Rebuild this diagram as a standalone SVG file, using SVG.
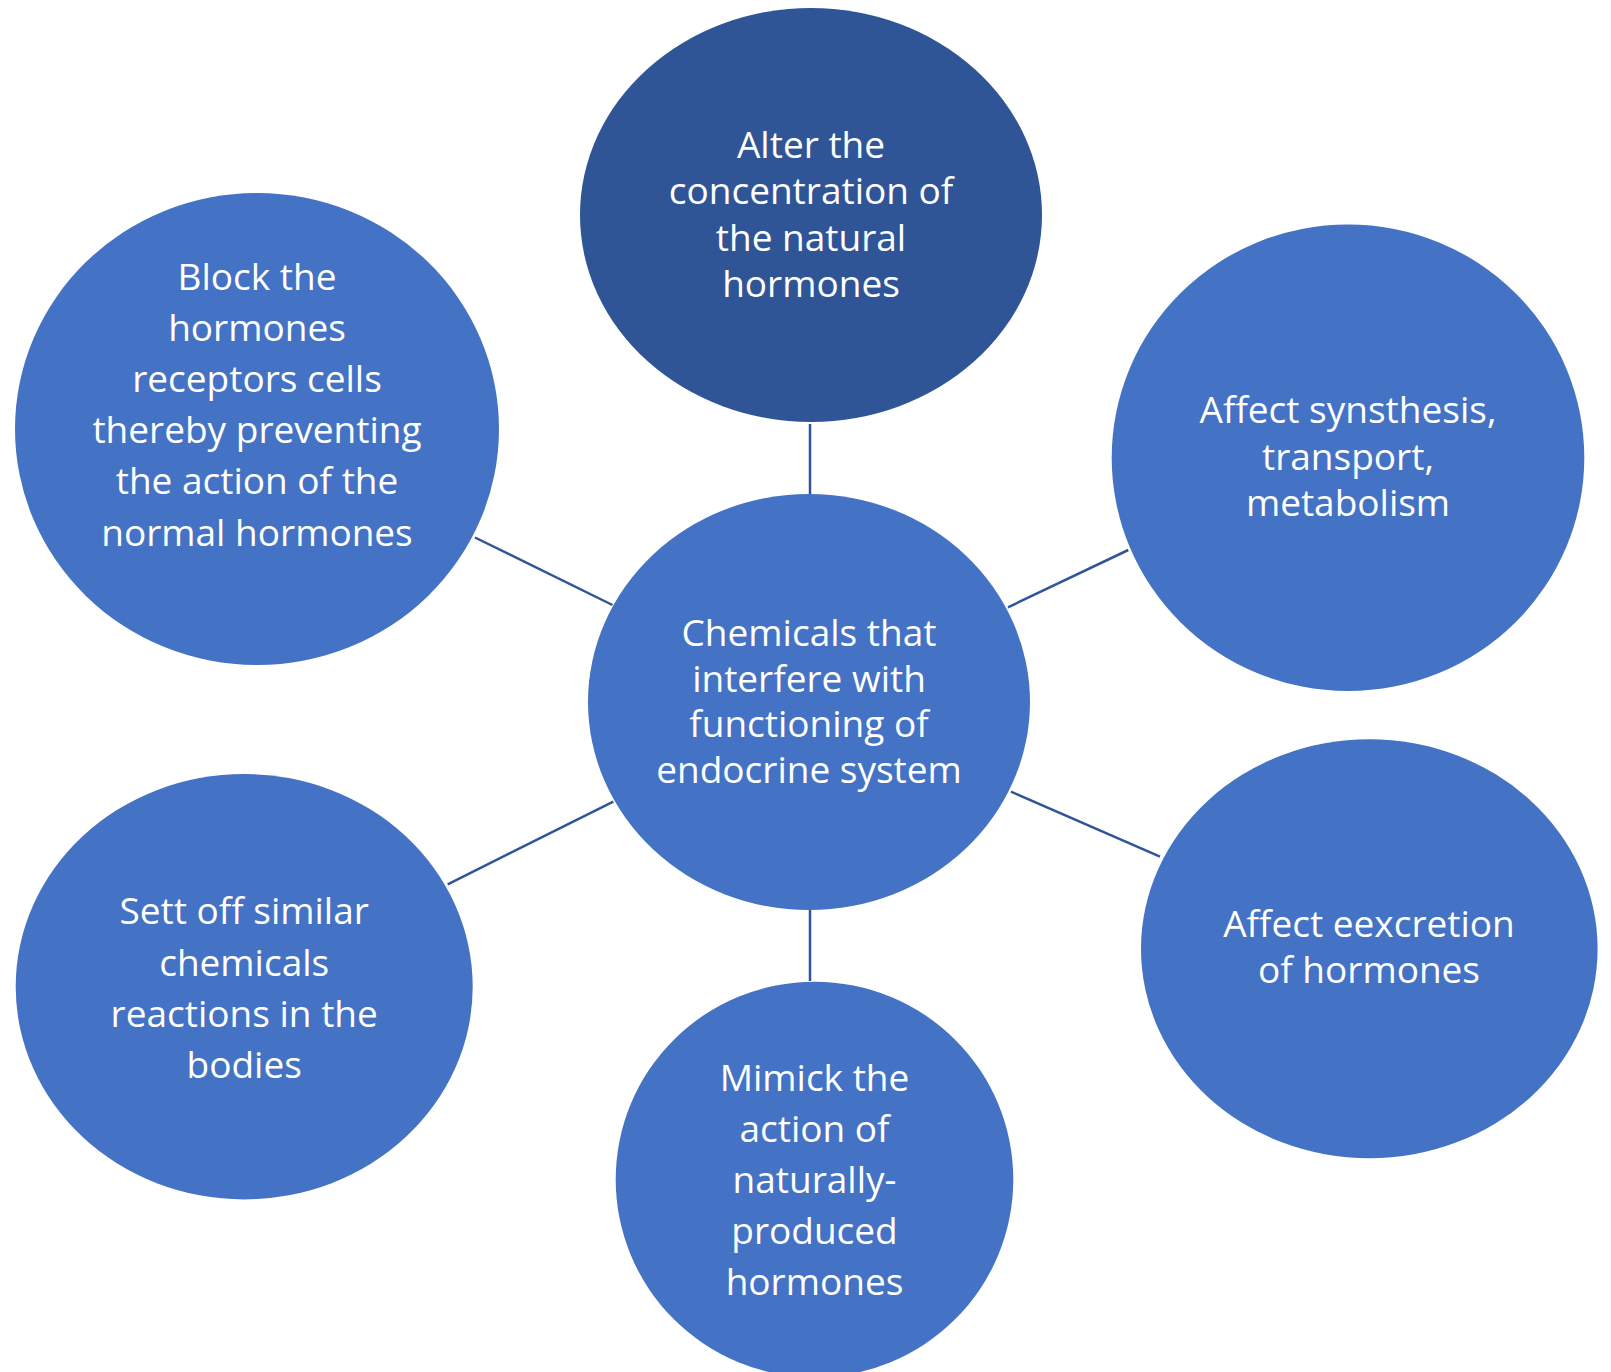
<svg xmlns="http://www.w3.org/2000/svg" width="1611" height="1372" viewBox="0 0 1611 1372">
<style>
.n{fill:#4472C4}
.d{fill:#2F5597}
.t{fill:#FFFFFF;font-family:"Open Sans","Noto Sans",sans-serif;font-size:37px;text-anchor:middle}
.c line{stroke:#2F5597;stroke-width:2.5;fill:none}
</style>
<rect width="1611" height="1372" fill="#FFFFFF"/>
<g id="connectors" class="c">
<line x1="810" y1="424" x2="810" y2="494"/>
<line x1="475" y1="537.5" x2="612.5" y2="605"/>
<line x1="1008" y1="607.3" x2="1128.3" y2="550"/>
<line x1="1011" y1="791.7" x2="1160" y2="856.7"/>
<line x1="810" y1="910" x2="810" y2="981"/>
<line x1="447.7" y1="884.3" x2="613.3" y2="801.7"/>
</g>
<g id="center">
<ellipse class="n" cx="809" cy="702" rx="221" ry="208"/>
<text class="t" x="809"><tspan x="809" y="645.7">Chemicals that</tspan><tspan x="809" y="691.7">interfere with</tspan><tspan x="809" y="737.3">functioning of</tspan><tspan x="809" y="783">endocrine system</tspan></text>
</g>
<g id="top">
<ellipse class="d" cx="811" cy="215" rx="231" ry="207"/>
<text class="t"><tspan x="811" y="158">Alter the</tspan><tspan x="811" y="204">concentration of</tspan><tspan x="811" y="250.7">the natural</tspan><tspan x="811" y="296.7">hormones</tspan></text>
</g>
<g id="topleft">
<ellipse class="n" cx="257" cy="429" rx="242" ry="236"/>
<text class="t"><tspan x="257" y="290">Block the</tspan><tspan x="257" y="341.3">hormones</tspan><tspan x="257" y="392.3">receptors cells</tspan><tspan x="257" y="443.3">thereby preventing</tspan><tspan x="257" y="494.3">the action of the</tspan><tspan x="257" y="545.7">normal hormones</tspan></text>
</g>
<g id="topright">
<ellipse class="n" cx="1348" cy="457.7" rx="236.3" ry="233.3"/>
<text class="t"><tspan x="1348" y="423.3">Affect synsthesis,</tspan><tspan x="1348" y="470">transport,</tspan><tspan x="1348" y="516">metabolism</tspan></text>
</g>
<g id="bottomright">
<ellipse class="n" cx="1369.3" cy="948.8" rx="228.3" ry="209.5"/>
<text class="t"><tspan x="1369" y="937.3">Affect eexcretion</tspan><tspan x="1369" y="983.3">of hormones</tspan></text>
</g>
<g id="bottom">
<ellipse class="n" cx="814.5" cy="1179.5" rx="198.8" ry="197.8"/>
<text class="t"><tspan x="814.5" y="1090.7">Mimick the</tspan><tspan x="814.5" y="1141.7">action of</tspan><tspan x="814.5" y="1193.3">naturally-</tspan><tspan x="814.5" y="1244.3">produced</tspan><tspan x="814.5" y="1295">hormones</tspan></text>
</g>
<g id="bottomleft">
<ellipse class="n" cx="244.2" cy="986.7" rx="228.5" ry="212.7"/>
<text class="t"><tspan x="244.2" y="924.3">Sett off similar</tspan><tspan x="244.2" y="975.7">chemicals</tspan><tspan x="244.2" y="1026.7">reactions in the</tspan><tspan x="244.2" y="1077.7">bodies</tspan></text>
</g>
</svg>
